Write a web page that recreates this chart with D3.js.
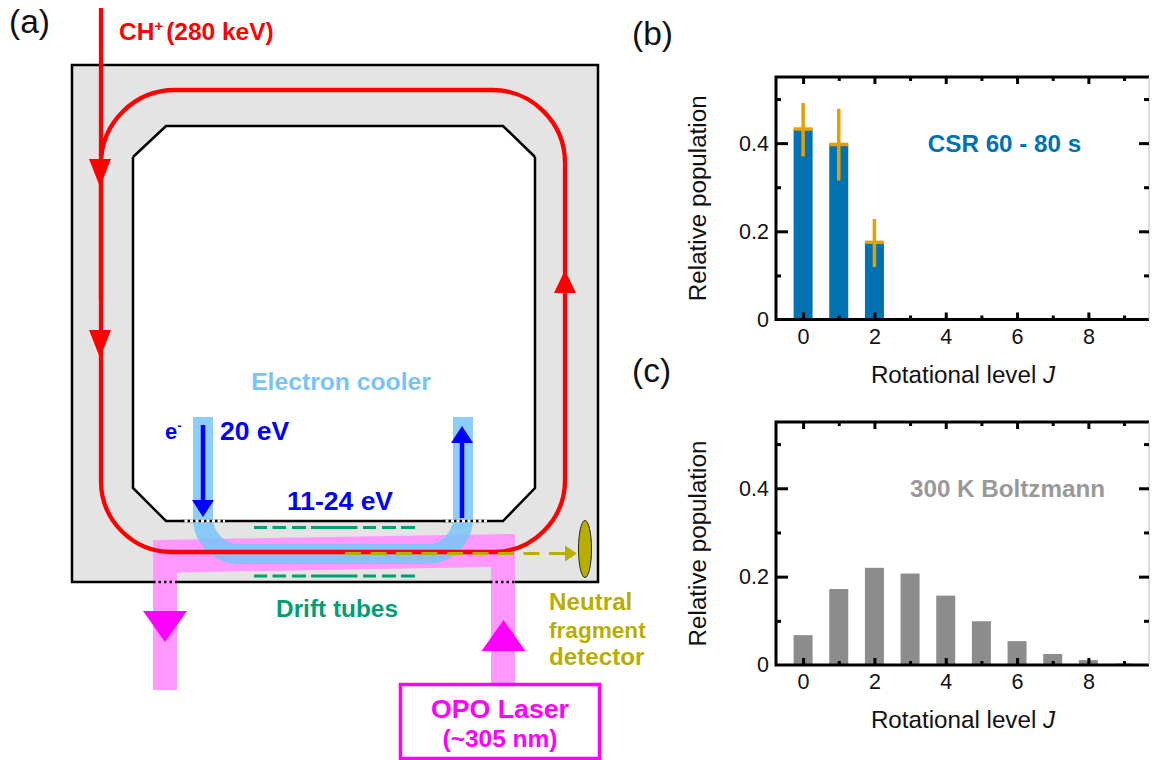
<!DOCTYPE html>
<html>
<head>
<meta charset="utf-8">
<script src="https://cdn.jsdelivr.net/npm/d3@7/dist/d3.min.js"></script>
<style>
  html, body { margin: 0; background: #fff; }
  svg { display: block; font-family: "Liberation Sans", Arial, sans-serif; }
</style>
</head>
<body>
<div id="chart"></div>
<script>
// panel (b): CSR populations
const csrLevels = [0, 1, 2];
const csrPop = [0.432, 0.397, 0.175];
const csrErrLow = [0.37, 0.315, 0.119];
const csrErrHigh = [0.491, 0.478, 0.228];

// panel (c): 300 K Boltzmann
const boltzLevels = [0, 1, 2, 3, 4, 5, 6, 7, 8, 9];
const boltzPop = [0.0675, 0.172, 0.22, 0.207, 0.157, 0.099, 0.054, 0.025, 0.011, 0.003];

const xMajor = [0, 2, 4, 6, 8];
const xMinor = [1, 3, 5, 7, 9];
const yMajor = [0, 0.2, 0.4];
const yMinor = [0.1, 0.3, 0.5];

const RED = '#ff0000', BLUE = '#0000ff', COOLER = '#78c4f8', PINK = '#ff99ff',
    MAGENTA = '#ff00ff', GREEN = '#009e73', OLIVE = '#b8ae00',
    CSR_BLUE = '#0072b2', ORANGE = '#e69f00', GREY = '#8c8c8c';

const svg = d3.select('#chart').append('svg')
    .attr('width', 1156)
    .attr('height', 760);

function label(str, x, y, size, color, opts = {}) {
    return svg.append('text')
        .attr('x', x)
        .attr('y', y)
        .attr('font-size', size)
        .attr('fill', color)
        .attr('font-weight', opts.weight || 'normal')
        .attr('text-anchor', opts.anchor || 'start')
        .text(str);
}

function poly(points, attrs) {
    const p = svg.append('path').attr('d', d3.line()(points) + (attrs.open ? '' : 'Z'));
    p.attr('fill', attrs.fill || 'none');
    if (attrs.stroke) p.attr('stroke', attrs.stroke).attr('stroke-width', attrs.width || 1);
    if (attrs.dash) p.attr('stroke-dasharray', attrs.dash);
    return p;
}

function arrowHead(x, y, dir, len, half, color) {
    // dir: 1 points down, -1 points up; (x, y) is the tip
    poly([[x, y], [x - half, y - dir * len], [x + half, y - dir * len]], { fill: color });
}

// ---- diagram (a) ----
function drawRing() {
    // vacuum chamber
    svg.append('rect')
        .attr('x', 72).attr('y', 65).attr('width', 526).attr('height', 517)
        .attr('fill', '#e4e4e4')
        .attr('stroke', '#000').attr('stroke-width', 2.5);

    poly([[133, 157], [166, 126], [503, 126], [535, 157], [535, 488], [503, 521], [166, 521], [133, 488]],
        { fill: '#fff' });
    poly([[133, 157], [166, 126], [503, 126], [535, 157]], { stroke: '#000', width: 2.5, open: true });
    poly([[535, 157], [535, 488], [503, 521], [166, 521], [133, 488], [133, 157]], { stroke: '#000', width: 2.5, open: true });

    // laser beam
    poly([[153, 540], [515, 534], [515, 684], [491, 684], [491, 567], [177, 572.5], [177, 690], [153, 690]],
        { fill: PINK });

    // electron beam
    const cooler = d3.path();
    cooler.moveTo(203, 417);
    cooler.lineTo(203, 518);
    cooler.arcTo(203, 554, 240, 554, 36);
    cooler.lineTo(427, 554);
    cooler.arcTo(463, 554, 463, 518, 36);
    cooler.lineTo(463, 417);
    svg.append('path')
        .attr('d', cooler.toString())
        .attr('fill', 'none')
        .attr('stroke', COOLER)
        .attr('stroke-width', 20)
        .attr('stroke-opacity', 0.85);

    // ion orbit
    const orbit = d3.path();
    orbit.moveTo(175, 90);
    orbit.lineTo(492, 90);
    orbit.arcTo(565, 90, 565, 163, 73);
    orbit.lineTo(565, 480);
    orbit.arcTo(565, 552, 493, 552, 72);
    orbit.lineTo(172, 552);
    orbit.arcTo(101, 552, 101, 481, 71);
    orbit.lineTo(101, 165);
    orbit.arcTo(101, 90, 175, 90, 74);
    svg.append('path')
        .attr('d', orbit.toString())
        .attr('fill', 'none')
        .attr('stroke', RED)
        .attr('stroke-width', 4.3);
    poly([[101, 8], [101, 300]], { stroke: RED, width: 4.3, open: true });

    arrowHead(100, 187, 1, 28, 11, RED);
    arrowHead(100, 358, 1, 28, 11, RED);
    arrowHead(565, 270, -1, 23, 11, RED);

    // gaps in the chamber walls
    [[182, 225, 521], [443, 487, 521], [153, 177, 582], [490, 515, 582]].forEach(([x0, x1, y]) => {
        if (y === 521) poly([[x0, y], [x1, y]], { stroke: '#fff', width: 2.5, open: true });
        poly([[x0, y], [x1, y]], { stroke: '#000', width: 2.5, dash: '2.5 3', open: true });
    });

    // electron arrows
    poly([[203, 425], [203, 502]], { stroke: BLUE, width: 4.5, open: true });
    arrowHead(203, 517, 1, 17, 11, BLUE);
    poly([[462, 518], [462, 442]], { stroke: BLUE, width: 4.5, open: true });
    arrowHead(462, 426, -1, 17, 11, BLUE);

    // drift tube electrodes
    [527.5, 576].forEach(y => {
        [[254, 267], [272.5, 286], [292, 306], [311, 357.5], [363, 376], [382, 396], [401, 415]].forEach(([x0, x1]) => {
            poly([[x0, y], [x1, y]], { stroke: GREEN, width: 3, open: true });
        });
    });

    // neutral fragments
    poly([[345, 553.5], [568, 553.5]], { stroke: OLIVE, width: 3, dash: '16 9.5', open: true });
    poly([[577, 553.5], [565, 545.5], [565, 561.5]], { fill: OLIVE });
    svg.append('ellipse')
        .attr('cx', 585).attr('cy', 549).attr('rx', 6.5).attr('ry', 28.5)
        .attr('fill', OLIVE)
        .attr('stroke', '#222').attr('stroke-width', 1);

    // laser arrows and box
    arrowHead(165, 642, 1, 31, 22, MAGENTA);
    arrowHead(503.5, 620, -1, 31, 22, MAGENTA);
    svg.append('rect')
        .attr('x', 400.5).attr('y', 684.5).attr('width', 199).attr('height', 74)
        .attr('fill', '#fff')
        .attr('stroke', MAGENTA).attr('stroke-width', 3.5);

    // labels
    const ch = label('CH', 119, 40, 24.5, RED, { weight: 'bold' });
    ch.append('tspan').attr('font-size', 15).attr('dy', -9).text('+');
    ch.append('tspan').attr('dy', 9).attr('dx', 3).text('(280 keV)');

    label('Electron cooler', 341, 390, 24.7, COOLER, { weight: 'bold', anchor: 'middle' });
    const e = label('e', 165, 439, 22, BLUE, { weight: 'bold' });
    e.append('tspan').attr('font-size', 13).attr('dy', -9).text('-');
    label('20 eV', 220, 440, 26.5, BLUE, { weight: 'bold' });
    label('11-24 eV', 340, 510, 26.5, BLUE, { weight: 'bold', anchor: 'middle' });
    label('Drift tubes', 337, 617, 24.4, GREEN, { weight: 'bold', anchor: 'middle' });
    label('Neutral', 549, 610, 24.2, OLIVE, { weight: 'bold' });
    label('fragment', 549, 638, 22.6, OLIVE, { weight: 'bold' });
    label('detector', 549, 665, 24.2, OLIVE, { weight: 'bold' });
    label('OPO Laser', 500, 718, 26.7, MAGENTA, { weight: 'bold', anchor: 'middle' });
    label('(~305 nm)', 500, 747, 24.5, MAGENTA, { weight: 'bold', anchor: 'middle' });
}

// ---- panels (b) and (c) ----
function drawPanel(top, bottom, drawBars) {
    const x = d3.scaleLinear().domain([-0.76, 9.7]).range([776, 1149]);
    const y = d3.scaleLinear().domain([0, 0.55]).range([bottom, top]);

    drawBars(x, y);

    const g = svg.append('g');

    // frame
    g.append('path')
        .attr('d', `M${x.range()[1]},${top}H776V${bottom}H${x.range()[1]}`)
        .attr('fill', 'none')
        .attr('stroke', '#000')
        .attr('stroke-width', 3);
    g.append('line')
        .attr('x1', 1149).attr('x2', 1149).attr('y1', top).attr('y2', bottom)
        .attr('stroke', '#bbb').attr('stroke-width', 1);

    const tickStyle = sel => sel.call(s => s.select('.domain').remove())
        .call(s => s.selectAll('line').attr('stroke', '#000').attr('stroke-width', 3));

    // tick marks on all four sides, pointing inwards
    g.append('g').attr('transform', `translate(0,${bottom})`)
        .call(d3.axisBottom(x).tickValues(xMajor).tickSize(-7).tickPadding(9).tickFormat(d3.format('d')))
        .call(tickStyle)
        .call(s => s.selectAll('text').attr('font-size', 21.5).attr('font-family', 'Liberation Sans').attr('fill', '#111'));
    g.append('g').attr('transform', `translate(0,${bottom})`)
        .call(d3.axisBottom(x).tickValues(xMinor).tickSize(-4).tickFormat(''))
        .call(tickStyle);
    g.append('g').attr('transform', `translate(0,${top})`)
        .call(d3.axisTop(x).tickValues(xMajor).tickSize(-7).tickFormat(''))
        .call(tickStyle);
    g.append('g').attr('transform', `translate(0,${top})`)
        .call(d3.axisTop(x).tickValues(xMinor).tickSize(-4).tickFormat(''))
        .call(tickStyle);

    const yFmt = d => d === 0 ? '0' : d3.format('.1f')(d);
    g.append('g').attr('transform', 'translate(776,0)')
        .call(d3.axisLeft(y).tickValues(yMajor).tickSize(-12).tickPadding(7).tickFormat(yFmt))
        .call(tickStyle)
        .call(s => s.selectAll('text').attr('font-size', 21.5).attr('font-family', 'Liberation Sans').attr('fill', '#111'))
        .call(s => s.selectAll('.tick').filter(d => d === 0).select('line').remove());
    g.append('g').attr('transform', 'translate(776,0)')
        .call(d3.axisLeft(y).tickValues(yMinor).tickSize(-5).tickFormat(''))
        .call(tickStyle);
    g.append('g').attr('transform', 'translate(1149,0)')
        .call(d3.axisRight(y).tickValues(yMajor.slice(1)).tickSize(-10).tickFormat(''))
        .call(tickStyle);
    g.append('g').attr('transform', 'translate(1149,0)')
        .call(d3.axisRight(y).tickValues(yMinor).tickSize(-5).tickFormat(''))
        .call(tickStyle);

    // axis titles
    const xTitle = label('Rotational level ', 963, bottom + 63, 24.2, '#111', { anchor: 'middle' });
    xTitle.append('tspan').attr('font-style', 'italic').text('J');
    svg.append('text')
        .attr('transform', `translate(706,${(top + bottom) / 2}) rotate(-90)`)
        .attr('text-anchor', 'middle')
        .attr('font-size', 24.2)
        .attr('fill', '#111')
        .text('Relative population');
}

drawRing();

drawPanel(77, 319.5, (x, y) => {
    const barW = 19;
    svg.append('g').selectAll('rect')
        .data(csrLevels)
        .join('rect')
        .attr('x', d => x(d) - barW / 2)
        .attr('y', (d, i) => y(csrPop[i]))
        .attr('width', barW)
        .attr('height', (d, i) => y(0) - y(csrPop[i]))
        .attr('fill', CSR_BLUE);

    const err = svg.append('g').attr('stroke', ORANGE).attr('stroke-width', 3.5);
    err.selectAll('.cap')
        .data(csrLevels)
        .join('line')
        .attr('class', 'cap')
        .attr('x1', d => x(d) - barW / 2)
        .attr('x2', d => x(d) + barW / 2)
        .attr('y1', (d, i) => y(csrPop[i]))
        .attr('y2', (d, i) => y(csrPop[i]));
    err.selectAll('.bar')
        .data(csrLevels)
        .join('line')
        .attr('class', 'bar')
        .attr('x1', d => x(d))
        .attr('x2', d => x(d))
        .attr('y1', (d, i) => y(csrErrLow[i]))
        .attr('y2', (d, i) => y(csrErrHigh[i]));
});

drawPanel(422, 665, (x, y) => {
    const barW = 19;
    svg.append('g').selectAll('rect')
        .data(boltzLevels)
        .join('rect')
        .attr('x', d => x(d) - barW / 2)
        .attr('y', (d, i) => y(boltzPop[i]))
        .attr('width', barW)
        .attr('height', (d, i) => y(0) - y(boltzPop[i]))
        .attr('fill', GREY);
});

label('(a)', 9, 33, 33.5, '#111');
label('(b)', 632, 45, 33.5, '#111');
label('(c)', 632, 382, 33.5, '#111');
label('CSR 60 - 80 s', 1004.5, 152, 24.2, CSR_BLUE, { weight: 'bold', anchor: 'middle' });
label('300 K Boltzmann', 1007.5, 497, 24.2, '#999', { weight: 'bold', anchor: 'middle' });
</script>
</body>
</html>
